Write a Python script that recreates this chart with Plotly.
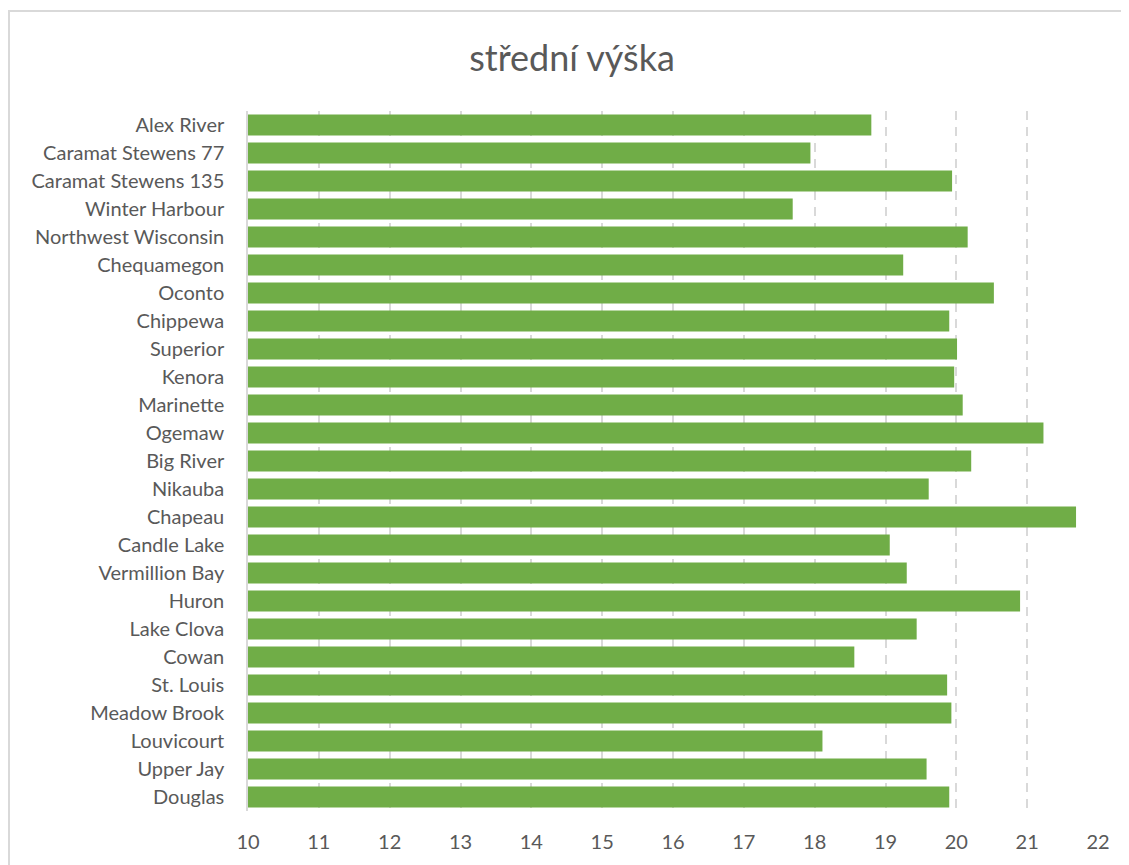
import plotly.graph_objects as go

# stations, top to bottom as shown
sites = [
    "Alex River", "Caramat Stewens 77", "Caramat Stewens 135", "Winter Harbour",
    "Northwest Wisconsin", "Chequamegon", "Oconto", "Chippewa", "Superior",
    "Kenora", "Marinette", "Ogemaw", "Big River", "Nikauba", "Chapeau",
    "Candle Lake", "Vermillion Bay", "Huron", "Lake Clova", "Cowan",
    "St. Louis", "Meadow Brook", "Louvicourt", "Upper Jay", "Douglas",
]
mean_height = [
    18.80, 17.94, 19.94, 17.69, 20.16, 19.25, 20.53, 19.90, 20.01,
    19.97, 20.09, 21.23, 20.21, 19.61, 21.69, 19.06, 19.30, 20.90,
    19.44, 18.56, 19.87, 19.93, 18.11, 19.58, 19.90,
]
x_ticks = list(range(10, 23))

# page has an 8px body margin, so figure coords are shifted by 8
OFF = 8
W, H = 1129 - OFF, 865 - OFF
L, R, T, B = 248 - OFF, 31, 111 - OFF, 54
pw, ph = W - L - R, H - T - B

fig = go.Figure()
fig.add_trace(go.Bar(
    y=sites, x=mean_height, orientation="h", base=0,
    marker=dict(color="#70AD47", line=dict(width=0)),
))

txt = "#595959"
fig.update_layout(
    width=W, height=H,
    margin=dict(l=L, r=R, t=T, b=B),
    paper_bgcolor="white", plot_bgcolor="white",
    font=dict(family="Lato, Carlito, Calibri, sans-serif", color=txt, size=20),
    title=dict(text="střední výška", x=(572 - OFF) / W, xanchor="center",
               y=1 - (58 - OFF) / H, yanchor="middle",
               font=dict(size=36, color=txt)),
    bargap=0.25,
    showlegend=False,
)
fig.update_xaxes(
    range=[10, 22], tickvals=x_ticks, showgrid=True, gridcolor="#D9D9D9",
    griddash="9px,7px", gridwidth=2, zeroline=False, showline=False,
    tickfont=dict(size=20, color=txt), ticklen=0, ticklabelstandoff=17,
)
fig.update_yaxes(
    categoryorder="array", categoryarray=sites, autorange="reversed",
    showgrid=False, showline=True, linecolor="#D9D9D9", linewidth=1.5,
    tickfont=dict(size=20, color=txt), ticklen=0, ticklabelstandoff=18,
)

# outer chart border (left edge kept just inside the figure)
fig.add_shape(
    type="rect", xref="paper", yref="paper", layer="above",
    x0=(1 - L) / pw, x1=(W + 60 - L) / pw,
    y0=-(B + 60) / ph, y1=1 + (T - (11 - OFF)) / ph,
    line=dict(color="#D9D9D9", width=2),
)

fig.write_html("out.html")
